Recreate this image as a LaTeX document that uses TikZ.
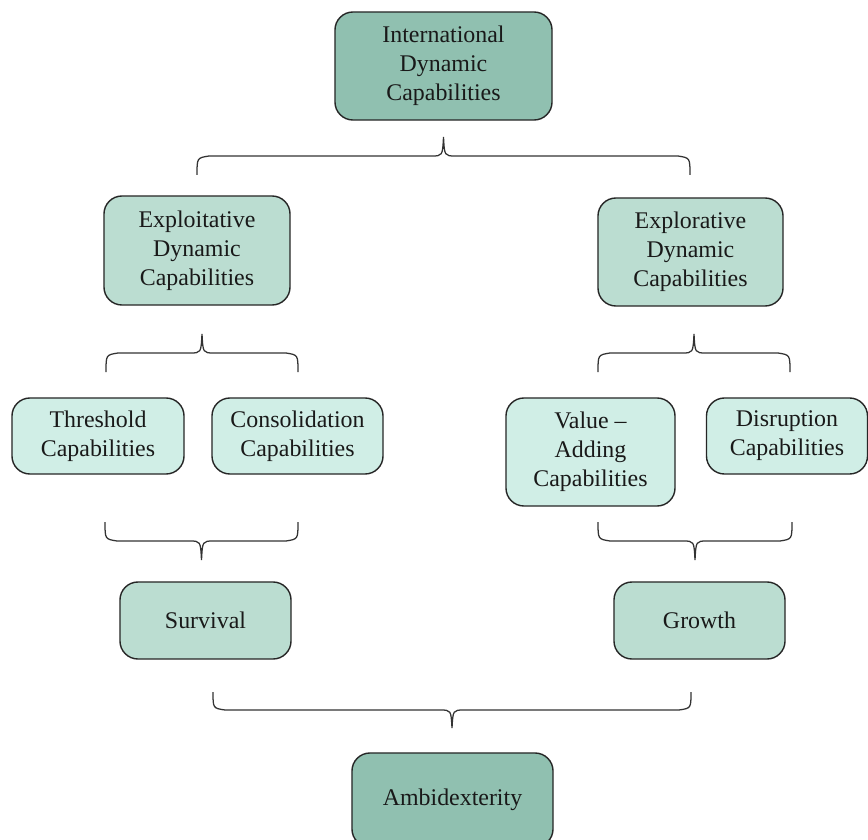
\documentclass[tikz,border=0pt]{standalone}
\usepackage{fontspec}
\setmainfont{Liberation Serif}
\usetikzlibrary{calc}
\definecolor{tealdark}{HTML}{90C0B0}
\definecolor{tealmid}{HTML}{BBDDD1}
\definecolor{teallight}{HTML}{D0EEE6}
% brace from #1 to #2, line offset #3 (negative = pointing up)
\newcommand\capbrace[3]{%
  \draw[bracestyle] (#1) .. controls ($(#1)+(0,0.9*#3)$) .. ($(#1)+(12,#3)$)
    -- ($(#1)!0.5!(#2)+(-12,#3)$) .. controls ($(#1)!0.5!(#2)+(-1,#3)$) .. ($(#1)!0.5!(#2)+(0,2*#3)$)
    .. controls ($(#1)!0.5!(#2)+(1,#3)$) .. ($(#1)!0.5!(#2)+(12,#3)$)
    -- ($(#2)+(-12,#3)$) .. controls ($(#2)+(0,0.9*#3)$) .. (#2);}
\begin{document}
\begin{tikzpicture}[x=0.025cm,y=-0.025cm,
  box/.style={draw=black!85,line width=1pt,rounded corners=0.45cm,align=center,
    inner sep=0pt,text=black!90,font=\fontsize{17}{20.6}\selectfont},
  bracestyle/.style={draw=black!80,line width=0.9pt}]
\useasboundingbox (0,0) rectangle (868,840);
% top level
\node[box,fill=tealdark,minimum width=5.425cm,minimum height=2.7cm] (idc) at (443.5,66) {International\\Dynamic\\Capabilities};
% second level
\node[box,fill=tealmid,minimum width=4.65cm,minimum height=2.725cm] (exploit) at (197,250.5) {Exploitative\\Dynamic\\Capabilities};
\node[box,fill=tealmid,minimum width=4.625cm,minimum height=2.7cm] (explore) at (690.5,252) {Explorative\\Dynamic\\Capabilities};
% third level
\node[box,fill=teallight,minimum width=4.3cm,minimum height=1.9cm] (thresh) at (98,436) {Threshold\\Capabilities};
\node[box,fill=teallight,minimum width=4.275cm,minimum height=1.9cm] (consol) at (297.5,436) {Consolidation\\Capabilities};
\node[box,fill=teallight,minimum width=4.225cm,minimum height=2.7cm] (value) at (590.5,452) {Value --\\Adding\\Capabilities};
\node[box,fill=teallight,minimum width=4.025cm,minimum height=1.9cm] (disrupt) at (787,436) {Disruption\\Capabilities};
% outcomes
\node[box,fill=tealmid,minimum width=4.275cm,minimum height=1.925cm] (survival) at (205.5,620.5) {Survival};
\node[box,fill=tealmid,minimum width=4.275cm,minimum height=1.925cm] (growth) at (699.5,620.5) {Growth};
\node[box,fill=tealdark,minimum width=5.025cm,minimum height=2.35cm] (ambi) at (452.5,800) {Ambidexterity};
% braces
\coordinate (b1l) at (197,175);
\coordinate (b1r) at (690,175);
\coordinate (b2l) at (106,372);
\coordinate (b2r) at (298,372);
\coordinate (b3l) at (598,372);
\coordinate (b3r) at (790,372);
\coordinate (b4l) at (105,522);
\coordinate (b4r) at (298,522);
\coordinate (b5l) at (598,522);
\coordinate (b5r) at (792,522);
\coordinate (b6l) at (213,692);
\coordinate (b6r) at (691,692);
\capbrace{b1l}{b1r}{-19}
\capbrace{b2l}{b2r}{-19}
\capbrace{b3l}{b3r}{-19}
\capbrace{b4l}{b4r}{19}
\capbrace{b5l}{b5r}{19}
\capbrace{b6l}{b6r}{18}
\end{tikzpicture}
\end{document}
